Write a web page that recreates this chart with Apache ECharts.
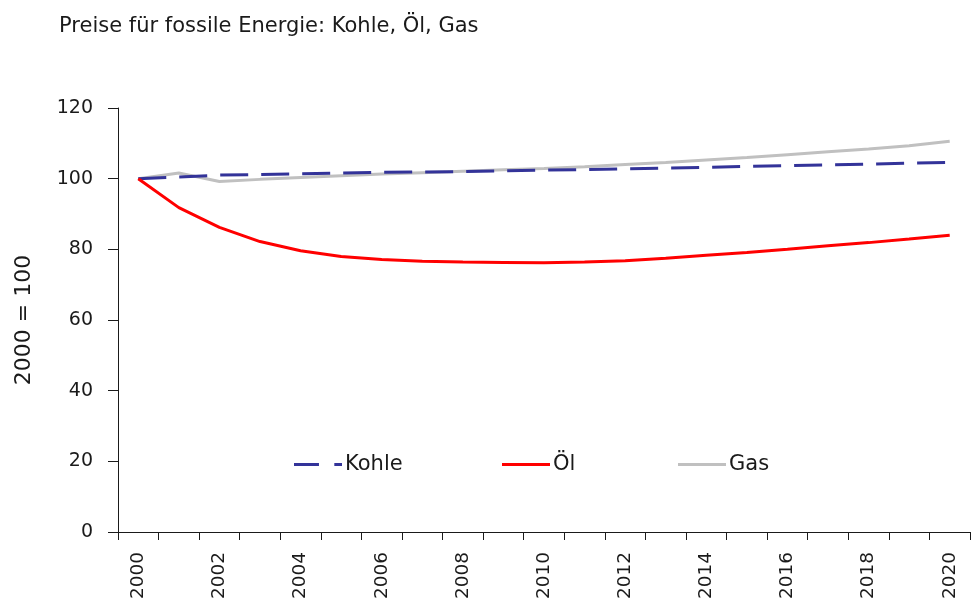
<!DOCTYPE html>
<html><head><meta charset="utf-8">
<script src="https://cdn.jsdelivr.net/npm/echarts@6/dist/echarts.min.js"></script>
<style>html,body{margin:0;padding:0;background:#fff}#c{width:972px;height:603px}</style>
</head><body><div id="c"></div>
<script>
const years = ['2000','2001','2002','2003','2004','2005','2006','2007','2008','2009','2010','2011','2012','2013','2014','2015','2016','2017','2018','2019','2020'];
const kohle = [100, 100.5, 101.0, 101.2, 101.4, 101.6, 101.8, 101.9, 102.0, 102.2, 102.4, 102.6, 102.8, 103.0, 103.2, 103.5, 103.7, 103.9, 104.1, 104.4, 104.6];
const oel = [100, 91.8, 86.2, 82.2, 79.6, 78.0, 77.1, 76.6, 76.4, 76.3, 76.2, 76.4, 76.8, 77.5, 78.3, 79.1, 80.0, 81.0, 81.9, 82.9, 84.0];
const gas = [100, 101.6, 99.2, 99.8, 100.3, 100.8, 101.3, 101.7, 102.1, 102.5, 102.9, 103.4, 104.0, 104.6, 105.3, 106.0, 106.8, 107.6, 108.4, 109.3, 110.6];
const title = 'Preise für fossile Energie: Kohle, Öl, Gas';
const yName = '2000 = 100';

const FONT = 'DejaVu Sans';
const COL = '#1a1a1a';
const chart = echarts.init(document.getElementById('c'), null, {renderer: 'canvas'});
const lineIcon = 'path://M0,0 L50,0 L50,3 L0,3 Z';
const legendBase = {
  top: 449, itemWidth: 48, itemHeight: 3, itemGap: 0,
  textStyle: {fontFamily: FONT, fontSize: 21, color: COL, padding: [0,0,0,-2]},
  selectedMode: false
};
chart.setOption({
  animation: false,
  title: {text: title, left: 54, top: 11, textStyle: {fontFamily: FONT, fontSize: 21, fontWeight: 'normal', color: COL}},
  legend: [
    Object.assign({}, legendBase, {left: 289, data: [{name: 'Kohle', icon: 'path://M0,0 L26,0 L26,3 L0,3 Z M42,0 L50,0 L50,3 L42,3 Z', itemStyle: {color: '#333399'}}]}),
    Object.assign({}, legendBase, {left: 497, data: [{name: 'Öl', icon: lineIcon, itemStyle: {color: '#ff0000'}}]}),
    Object.assign({}, legendBase, {left: 673, data: [{name: 'Gas', icon: lineIcon, itemStyle: {color: '#c0c0c0'}}]})
  ],
  grid: {left: 118, right: 2, top: 108, bottom: 71},
  xAxis: {
    type: 'category', data: years, boundaryGap: true,
    axisLine: {lineStyle: {color: COL, width: 1}},
    axisTick: {show: true, length: 8, alignWithLabel: false, interval: 0, lineStyle: {color: COL}},
    axisLabel: {rotate: 90, interval: 1, margin: 20, fontFamily: FONT, fontSize: 18.5, color: COL},
    splitLine: {show: false}
  },
  yAxis: {
    type: 'value', min: 0, max: 120, interval: 20,
    name: yName, nameLocation: 'middle', nameRotate: 90, nameGap: 83,
    nameTextStyle: {fontFamily: FONT, fontSize: 22, color: COL},
    axisLine: {show: true, lineStyle: {color: COL, width: 1}},
    axisTick: {show: true, length: 10, lineStyle: {color: COL}},
    axisLabel: {margin: 25, fontFamily: FONT, fontSize: 19, color: COL},
    splitLine: {show: false}
  },
  series: [
    {name: 'Kohle', type: 'line', data: kohle, symbol: 'none', z: 2,
     lineStyle: {color: '#333399', width: 3, type: [28, 13]}, itemStyle: {color: '#333399'}},
    {name: 'Öl', type: 'line', data: oel, symbol: 'none', z: 3,
     lineStyle: {color: '#ff0000', width: 3}, itemStyle: {color: '#ff0000'}},
    {name: 'Gas', type: 'line', data: gas, symbol: 'none', z: 1,
     lineStyle: {color: '#c0c0c0', width: 3}, itemStyle: {color: '#c0c0c0'}}
  ]
});
</script></body></html>
